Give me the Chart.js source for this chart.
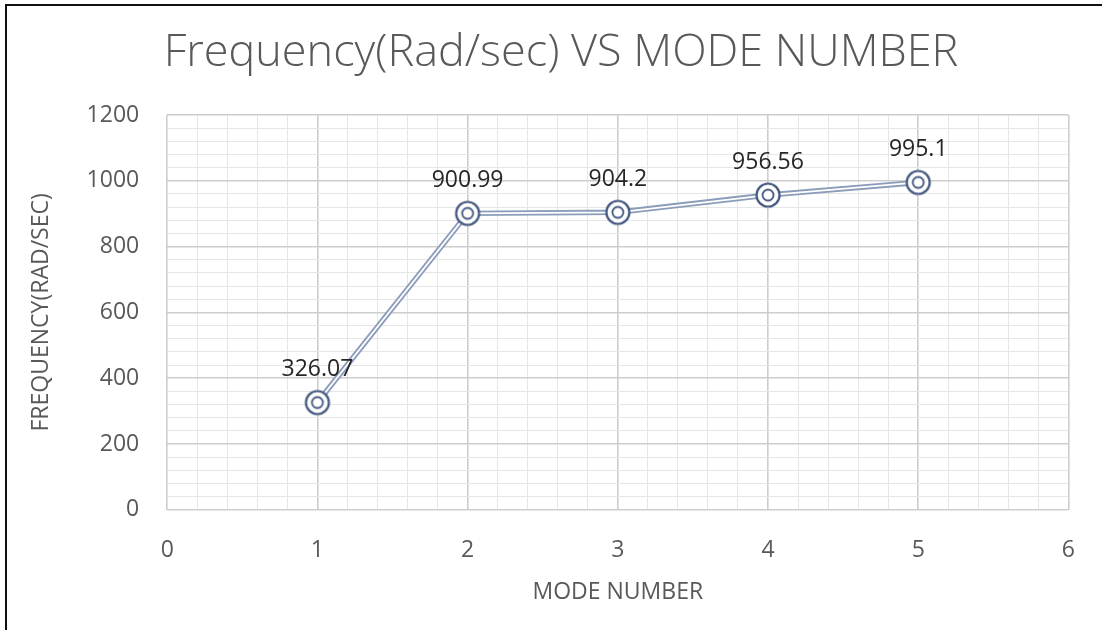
<!DOCTYPE html>
<html>
<head>
<meta charset="utf-8">
<script src="https://cdn.jsdelivr.net/npm/chart.js@4"></script>
<style>
  body { margin: 0; background: #fff; }
  #wrap { position: relative; width: 1102px; height: 630px; }
  #frame { position: absolute; left: 5px; top: 4px; right: 0; bottom: 0;
           border-left: 2px solid #111; border-top: 2px solid #111; pointer-events: none; }
</style>
</head>
<body>
<div id="wrap">
  <canvas id="grafico" width="1102" height="630"></canvas>
  <div id="frame"></div>
</div>
<script>
// datos
const modos = [1, 2, 3, 4, 5];
const frecuencias = [326.07, 900.99, 904.2, 956.56, 995.1];
const etiquetas = ["326.07", "900.99", "904.2", "956.56", "995.1"];
const titulo = "Frequency(Rad/sec) VS MODE NUMBER";

const puntos = modos.map((m, i) => ({ x: m, y: frecuencias[i] }));

const gris = "#595959";
const fuente = "'Open Sans', sans-serif";

// marcador doble circulo
const marca = document.createElement("canvas");
marca.width = 30;
marca.height = 30;
const mc = marca.getContext("2d");
mc.fillStyle = "#fff";
mc.strokeStyle = "#43587f";
mc.lineWidth = 2.2;
mc.beginPath();
mc.arc(15, 15, 11.5, 0, Math.PI * 2);
mc.fill();
mc.stroke();
mc.lineWidth = 1.8;
mc.beginPath();
mc.arc(15, 15, 5.5, 0, Math.PI * 2);
mc.stroke();

// etiquetas de datos + titulo
const etiquetasPlugin = {
  id: "etiquetas",
  afterDatasetsDraw(chart) {
    const ctx = chart.ctx;
    const meta = chart.getDatasetMeta(0);
    ctx.save();
    ctx.font = "23px " + fuente;
    ctx.fillStyle = "#262626";
    ctx.textAlign = "center";
    ctx.textBaseline = "middle";
    meta.data.forEach((p, i) => {
      ctx.fillText(etiquetas[i], p.x, p.y - 33);
    });
    ctx.font = "300 45px " + fuente;
    ctx.fillStyle = gris;
    ctx.fillText(titulo, 561, 53);
    ctx.restore();
  },
};

const esMayor = (v, paso) => Math.abs(v / paso - Math.round(v / paso)) < 1e-6;

new Chart(document.getElementById("grafico"), {
  type: "line",
  data: {
    datasets: [
      {
        data: puntos,
        showLine: false,
        pointStyle: marca,
        pointRadius: 15,
      },
      {
        data: puntos,
        borderColor: "#ffffff",
        borderWidth: 1.8,
        pointRadius: 0,
      },
      {
        data: puntos,
        borderColor: "#8c9dbb",
        borderWidth: 5.5,
        pointRadius: 0,
      },
    ],
  },
  options: {
    responsive: false,
    animation: false,
    layout: { padding: { left: 12, right: -10, top: 115, bottom: 24 } },
    plugins: {
      legend: { display: false },
      tooltip: { enabled: false },
    },
    scales: {
      x: {
        type: "linear",
        min: 0,
        max: 6,
        ticks: {
          stepSize: 0.2,
          autoSkip: false,
          maxRotation: 0,
          color: gris,
          font: { family: fuente, size: 23 },
          padding: 27,
          callback: (v) => (esMayor(v, 1) ? Math.round(v) : ""),
        },
        grid: {
          drawTicks: false,
          color: (c) => (esMayor(c.tick.value, 1) ? "#cdcdcd" : "#e6e6e6"),
          lineWidth: (c) => (esMayor(c.tick.value, 1) ? 1.6 : 1),
        },
        border: { display: false },
        title: {
          display: true,
          text: "MODE NUMBER",
          color: gris,
          font: { family: fuente, size: 23 },
          padding: { top: -13, bottom: 0 },
        },
      },
      y: {
        min: 0,
        max: 1200,
        ticks: {
          stepSize: 40,
          autoSkip: false,
          color: gris,
          font: { family: fuente, size: 23 },
          padding: 28,
          callback: (v) => (esMayor(v, 200) ? v : ""),
        },
        grid: {
          drawTicks: false,
          color: (c) => (esMayor(c.tick.value, 200) ? "#cdcdcd" : "#e6e6e6"),
          lineWidth: (c) => (esMayor(c.tick.value, 200) ? 1.6 : 1),
        },
        border: { display: false },
        title: {
          display: true,
          text: "FREQUENCY(RAD/SEC)",
          color: gris,
          font: { family: fuente, size: 23 },
          padding: { top: 16, bottom: 3 },
        },
      },
    },
  },
  plugins: [etiquetasPlugin],
});
</script>
</body>
</html>
